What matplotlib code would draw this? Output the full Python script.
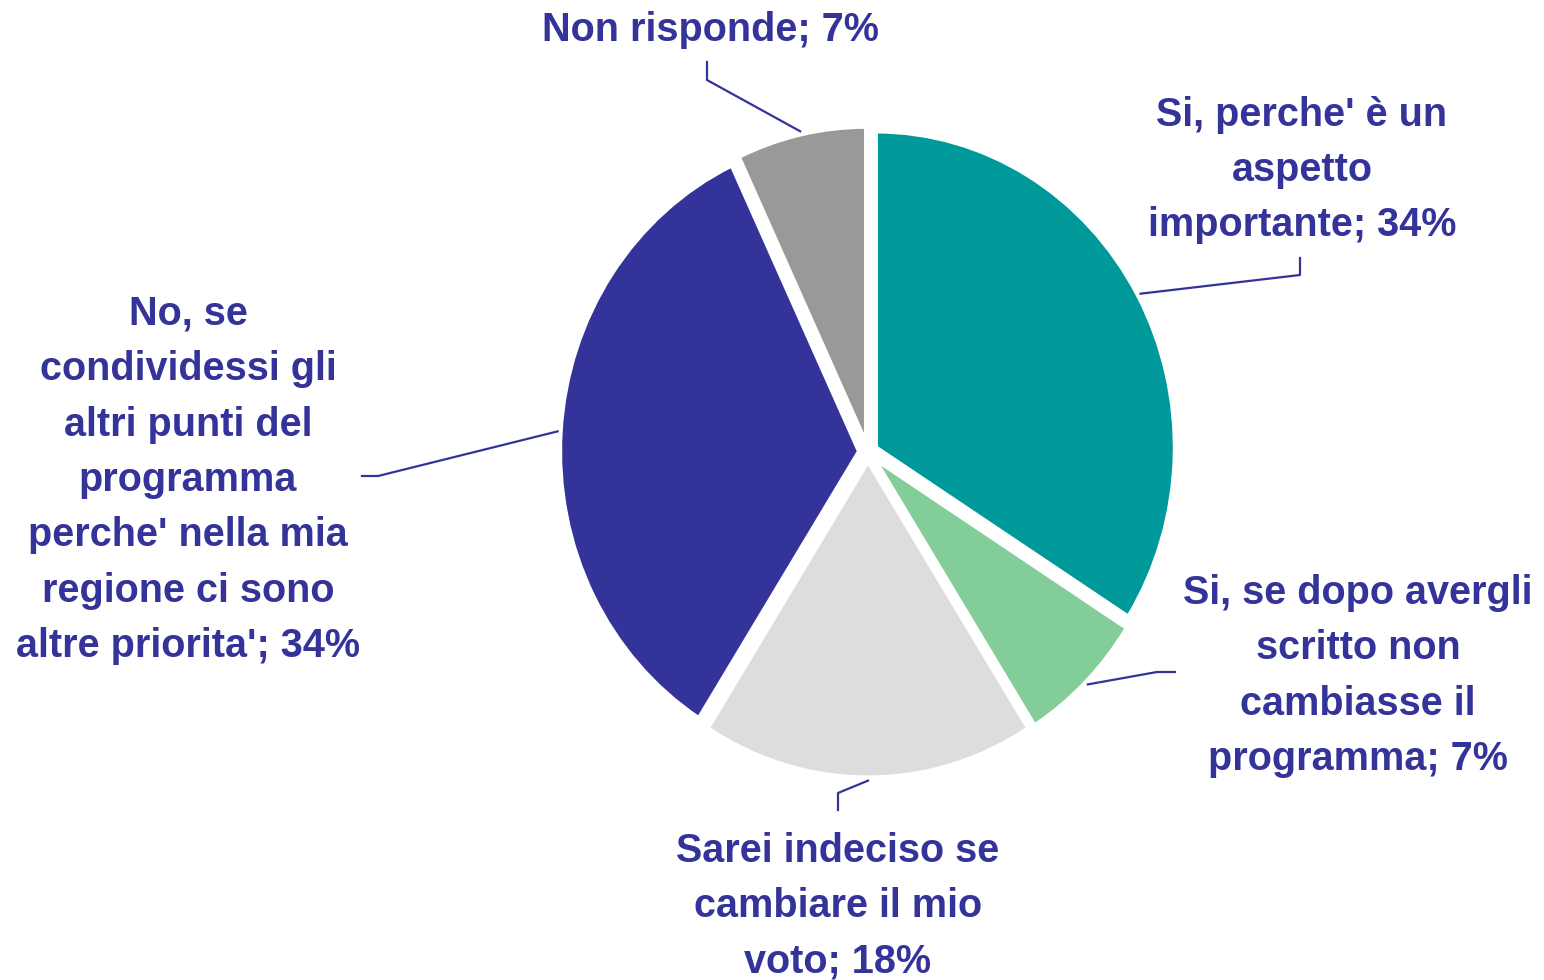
import numpy as np
import matplotlib.pyplot as plt

# dati (in senso orario dalle 12)
labels = ["Si, perche' è un\naspetto\nimportante; 34%",
          "Si, se dopo avergli\nscritto non\ncambiasse il\nprogramma; 7%",
          "Sarei indeciso se\ncambiare il mio\nvoto; 18%",
          "No, se\ncondividessi gli\naltri punti del\nprogramma\nperche' nella mia\nregione ci sono\naltre priorita'; 34%",
          "Non risponde; 7%"]
values = [34, 7, 18, 34, 7]
colors = ['#009999', '#83CD99', '#DDDDDD', '#333399', '#999999']
text_color = '#333399'

# posizione etichette in pixel (x, y dall'alto): gomito, fine linea, centro testo
W, H = 1544, 980
cx, cy = 868, 452
rx, ry = 299, 316
elbows = [(1300, 275), (1157, 672), (838, 793), (378, 476), (707, 80)]
ends = [(1300, 258), (1175, 672), (838, 810), (362, 476), (707, 62)]
text_pos = [(1302, 170), (1358, 676), (838, 906), (188, 480), (710, 30)]


def to_data(p):
    return (p[0] - cx) / rx, (cy - p[1]) / ry


fig = plt.figure(figsize=(W / 100, H / 100), dpi=100)
ax = fig.add_axes([0, 0, 1, 1])

wedges, _ = ax.pie(values, colors=colors, startangle=90, counterclock=False,
                   explode=[0.03] * 5,
                   wedgeprops=dict(edgecolor='white', linewidth=3))
ax.set_aspect('auto')
ax.set_xlim(-cx / rx, (W - cx) / rx)
ax.set_ylim(-(H - cy) / ry, cy / ry)
ax.axis('off')

total = sum(values)
cum = np.cumsum([0] + values)
for i, lab in enumerate(labels):
    mid = (cum[i] + cum[i + 1]) / 2 / total * 2 * np.pi
    ax0, ay0 = 1.04 * np.sin(mid), 1.04 * np.cos(mid)
    ex, ey = to_data(elbows[i])
    fx, fy = to_data(ends[i])
    ax.plot([ax0, ex, fx], [ay0, ey, fy], color=text_color, lw=1.6)
    tx, ty = to_data(text_pos[i])
    ax.text(tx, ty, lab, ha='center', va='center', color=text_color,
            fontsize=28.5, fontweight='bold', family='Liberation Sans',
            linespacing=1.58)

fig.savefig('out.png', dpi=100)
